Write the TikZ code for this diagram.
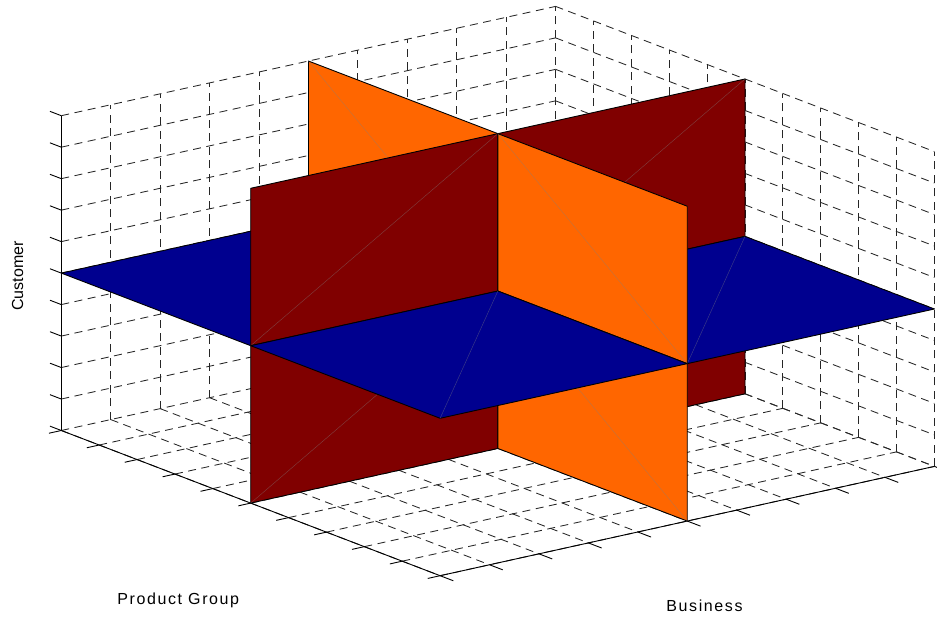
\documentclass[tikz,border=0pt]{standalone}
\usepackage{fontspec}
\newfontfamily\axisfont[LetterSpace=10]{Liberation Sans}
\newfontfamily\zaxisfont{Liberation Sans}
\usepackage{xcolor}
\definecolor{PlaneRed}{RGB}{128, 0, 0}
\definecolor{PlaneOrange}{RGB}{255, 102, 0}
\definecolor{PlaneBlue}{RGB}{0, 0, 143}

\begin{document}
\begin{tikzpicture}[x=1pt, y=1pt,
  gridline/.style={draw=black!85, line width=0.85pt, dash pattern=on 8pt off 5.5pt},
  axisline/.style={draw=black, line width=0.9pt},
  tickmark/.style={draw=black, line width=0.9pt},
  redface/.style={fill=PlaneRed, draw=black, line width=0.9pt, line join=round},
  orangeface/.style={fill=PlaneOrange, draw=black, line width=0.9pt, line join=round},
  blueface/.style={fill=PlaneBlue, draw=black, line width=0.9pt, line join=round},
  diag/.style={draw=gray, line width=0.4pt, opacity=0.5},
  axislabel/.style={font=\axisfont\fontsize{16}{19}\selectfont, inner sep=0pt, anchor=base}
]
\useasboundingbox (0,0) rectangle (937,616);

\begin{scope}[shift={(61.3pt,185.5pt)},
  x={(378.8pt,-145.2pt)}, y={(494.3pt,109.3pt)}, z={(0pt,314.8pt)}]
% grid on the back walls and the floor
\foreach \i in {1,...,10} {
  \draw[gridline] (0,\i/10,0) -- (0,\i/10,1);
  \draw[gridline] (0,0,\i/10) -- (0,1,\i/10);
}
\foreach \i in {0,...,10} {
  \draw[gridline] (\i/10,1,0) -- (\i/10,1,1);
  \draw[gridline] (0,1,\i/10) -- (1,1,\i/10);
  \draw[gridline] (\i/10,0,0) -- (\i/10,1,0);
  \draw[gridline] (0,\i/10,0) -- (1,\i/10,0);
}

% axes and ticks
\draw[axisline] (0,0,0) -- (0,0,1);
\draw[axisline] (0,0,0) -- (1,0,0) -- (1,1,0);
\foreach \i in {0,...,10} {
  \draw[tickmark] (-0.03,0,\i/10) -- (0,0,\i/10);
  \draw[tickmark] (\i/10,-0.025,0) -- (\i/10,0,0);
  \draw[tickmark] (1,\i/10,0) -- (1.035,\i/10,0);
}

% far quadrants
\filldraw[redface] (.5,.5,0) -- (.5,1,0) -- (.5,1,.5) -- (.5,.5,.5) -- cycle;
\draw[diag] (.5,.5,0) -- (.5,1,.5);
\filldraw[orangeface] (0,.5,0) -- (.5,.5,0) -- (.5,.5,.5) -- (0,.5,.5) -- cycle;
\draw[diag] (0,.5,.5) -- (.5,.5,0);
\filldraw[blueface] (0,.5,.5) -- (.5,.5,.5) -- (.5,1,.5) -- (0,1,.5) -- cycle;
\draw[diag] (0,.5,.5) -- (.5,1,.5);

% middle quadrants
\filldraw[redface] (.5,0,0) -- (.5,.5,0) -- (.5,.5,.5) -- (.5,0,.5) -- cycle;
\draw[diag] (.5,0,0) -- (.5,.5,.5);
\filldraw[redface] (.5,.5,.5) -- (.5,1,.5) -- (.5,1,1) -- (.5,.5,1) -- cycle;
\draw[diag] (.5,1,1) -- (.5,.5,.5);
\filldraw[orangeface] (0,.5,.5) -- (.5,.5,.5) -- (.5,.5,1) -- (0,.5,1) -- cycle;
\draw[diag] (0,.5,1) -- (.5,.5,.5);
\filldraw[orangeface] (.5,.5,0) -- (1,.5,0) -- (1,.5,.5) -- (.5,.5,.5) -- cycle;
\draw[diag] (.5,.5,.5) -- (1,.5,0);
\filldraw[blueface] (0,0,.5) -- (.5,0,.5) -- (.5,.5,.5) -- (0,.5,.5) -- cycle;
\draw[diag] (0,.5,.5) -- (.5,0,.5);
\filldraw[blueface] (.5,.5,.5) -- (1,.5,.5) -- (1,1,.5) -- (.5,1,.5) -- cycle;
\draw[diag] (.5,1,.5) -- (1,.5,.5);

% near quadrants
\filldraw[redface] (.5,0,.5) -- (.5,.5,.5) -- (.5,.5,1) -- (.5,0,1) -- cycle;
\draw[diag] (.5,0,.5) -- (.5,.5,1);
\filldraw[orangeface] (.5,.5,.5) -- (1,.5,.5) -- (1,.5,1) -- (.5,.5,1) -- cycle;
\draw[diag] (.5,.5,1) -- (1,.5,.5);
\filldraw[blueface] (.5,0,.5) -- (1,0,.5) -- (1,.5,.5) -- (.5,.5,.5) -- cycle;
\draw[diag] (.5,.5,.5) -- (1,0,.5);
\end{scope}

% axis labels
\node[axislabel] (pglabel) at (178.3,12) {Product Group};
\node[axislabel] (buslabel) at (704.5,5) {Business};
\node[axislabel, font=\zaxisfont\fontsize{16}{19}\selectfont, rotate=90] (custlabel) at (23,340) {Customer};
\end{tikzpicture}
\end{document}
